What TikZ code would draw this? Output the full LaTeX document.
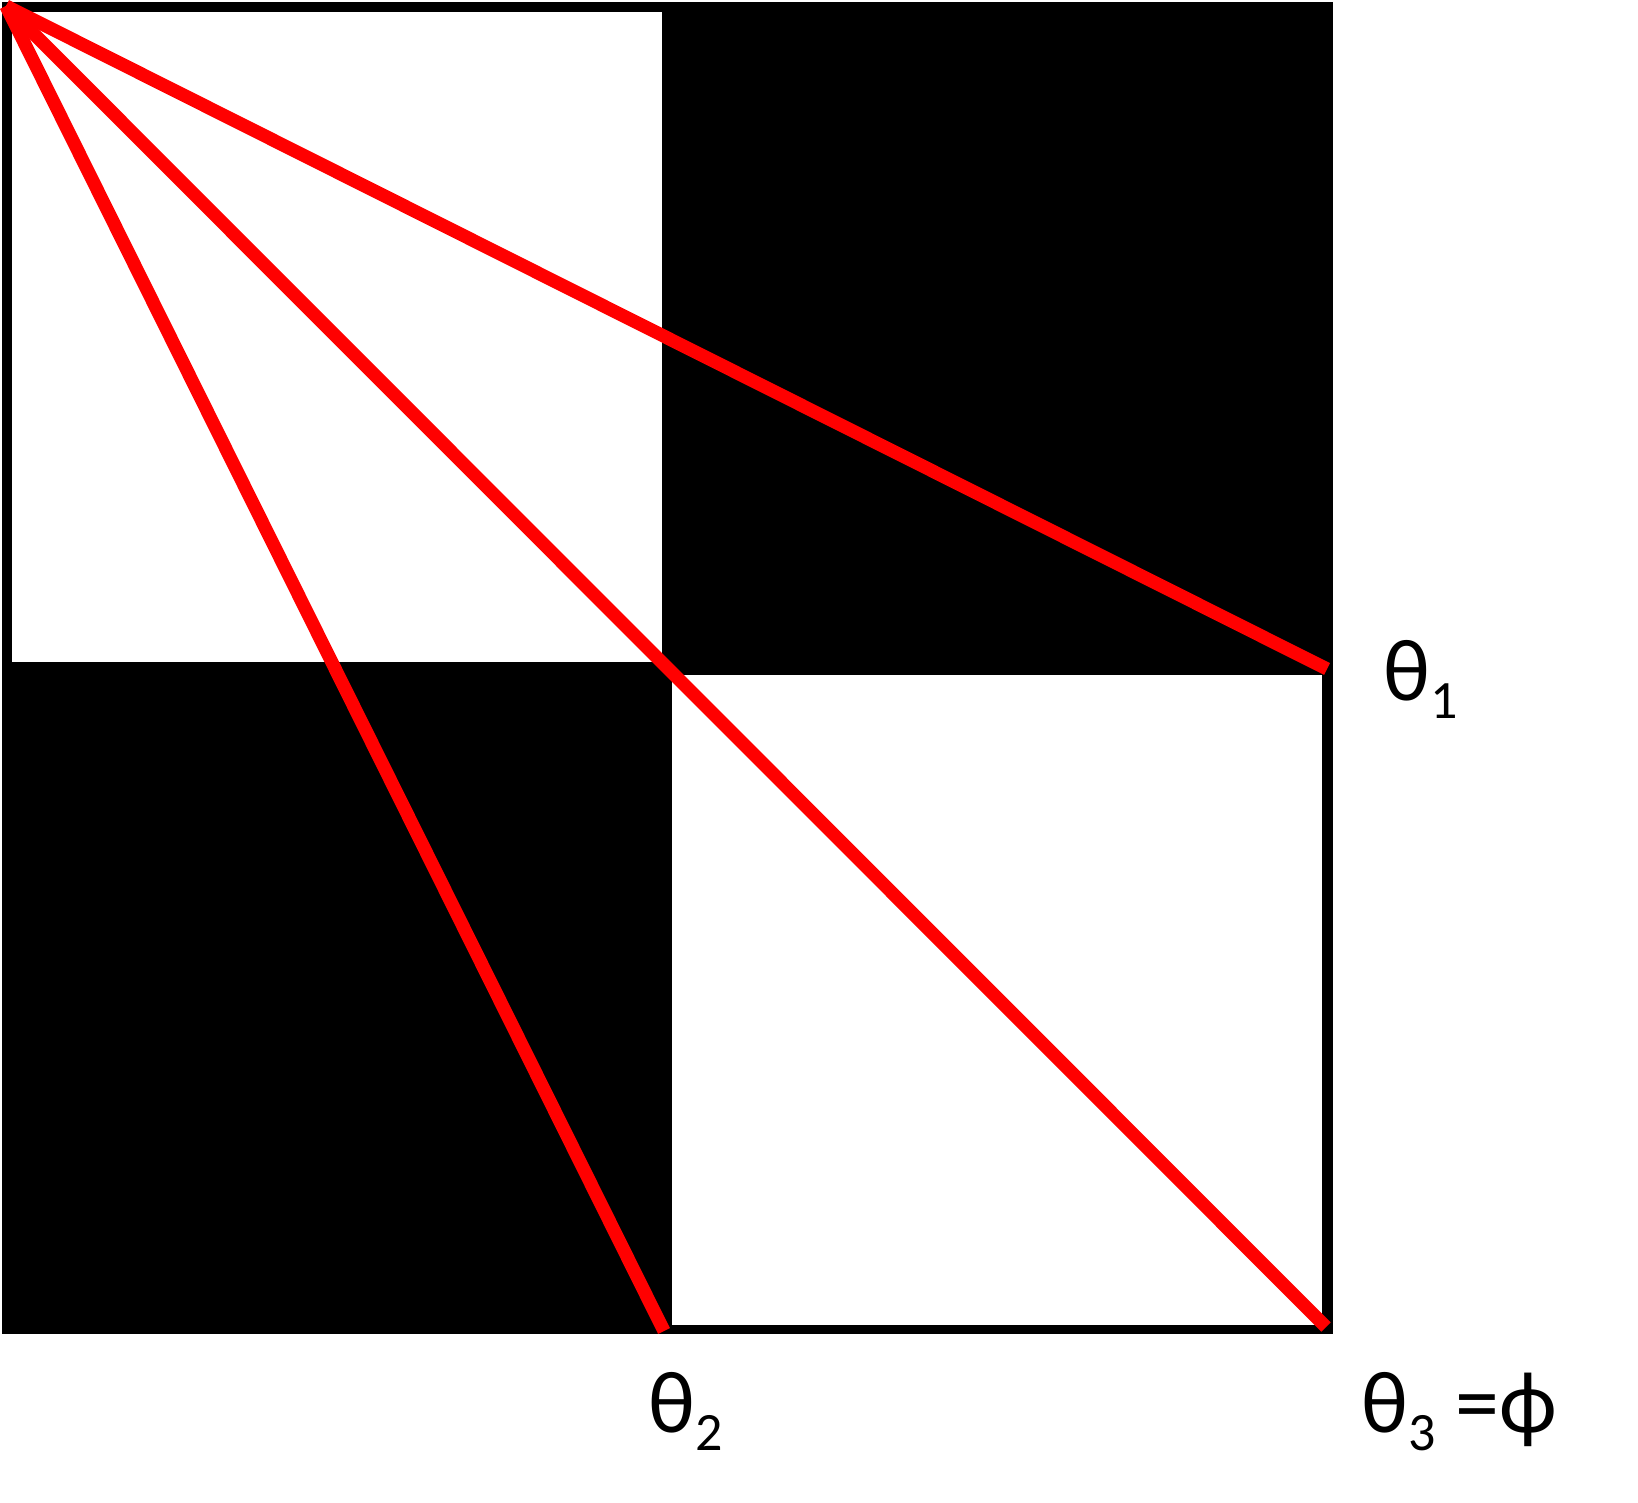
\documentclass[tikz,border=0pt]{standalone}
\usepackage{fontspec}
\setmainfont{Carlito}
\usetikzlibrary{positioning}
\newcommand{\lowsub}[1]{\raisebox{-9pt}{\fontsize{27}{27}\selectfont #1}}
\begin{document}
\begin{tikzpicture}[x=0.5pt, y=-0.5pt]
	\tikzstyle{ray}=[draw=red, line width=6.6pt]
	\tikzstyle{angle label}=[inner sep=0pt, anchor=base west, font=\fontsize{44}{50}\selectfont]
	\useasboundingbox (0,0) rectangle (1638,1503);
	% checkerboard
	\fill[black] (2,2) rectangle (1333,1334);
	\fill[white] (12,12) rectangle (662,662);
	\fill[white] (672,675) rectangle (1322,1325);
	\coordinate (apex) at (6,6);
	\coordinate (end-1) at (1327,669);
	\coordinate (end-2) at (664,1331);
	\coordinate (end-3) at (1326,1327);
	\draw[ray] (apex) -- (end-1);
	\draw[ray] (apex) -- (end-2);
	\draw[ray] (apex) -- (end-3);
	\node[angle label] (theta-1) at (1383,700) {θ\lowsub{1}};
	\node[angle label] (theta-2) at (648,1432) {θ\lowsub{2}};
	\node[angle label] (theta-3) at (1361,1432) {θ\lowsub{3} =ϕ};
\end{tikzpicture}
\end{document}
